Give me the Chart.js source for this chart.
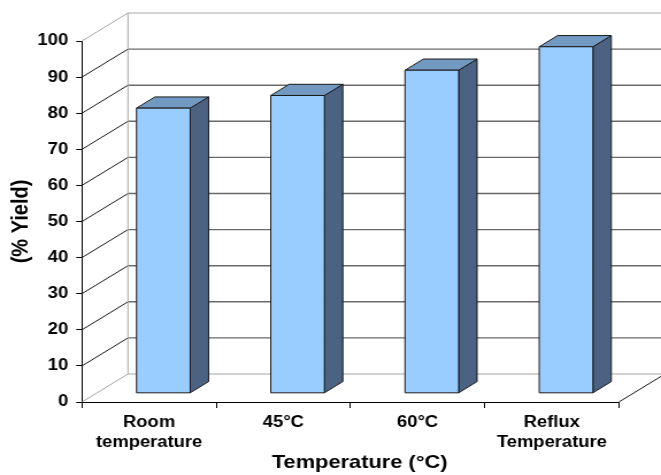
<!DOCTYPE html>
<html>
<head>
<meta charset="utf-8">
<script src="https://cdn.jsdelivr.net/npm/chart.js@4/dist/chart.umd.min.js"></script>
<style>
  html, body { margin: 0; padding: 0; background: #fff; overflow: hidden; }
  /* the drawing is laid out on a 575px canvas and widened to fill 661px */
  #wrap { width: 575px; height: 475px; transform: scaleX(1.14957); transform-origin: 0 0; }
</style>
</head>
<body>
<div id="wrap"><canvas id="chart"></canvas></div>
<script>
// ---- data ----
const categories = [['Room', 'temperature'], '45°C', '60°C', ['Reflux', 'Temperature']];
const yieldValues = [79, 82.5, 89.5, 96];
const yTickValues = [0, 10, 20, 30, 40, 50, 60, 70, 80, 90, 100];
const xTitle = 'Temperature (°C)';
const yTitle = '(% Yield)';

// ---- look ----
const FONT = '"Liberation Sans", Arial, Helvetica, sans-serif';
const DEPTH_X = 40, DEPTH_Y = -28;      // depth of the floor / side wall
const BAR_FRONT = 0.31, BAR_BACK = 0.71; // bar position inside the depth
const COL_FRONT = '#99ccff', COL_SIDE = '#4b6282', COL_TOP = '#7299c2';

const box3d = {
  id: 'box3d',
  afterDatasetsDraw(chart) {
    const { ctx, chartArea: a, scales: { x, y } } = chart;
    const L = a.left, R = a.right;
    ctx.save();
    ctx.lineCap = 'butt';

    const line = (x1, y1, x2, y2, color, w) => {
      ctx.beginPath();
      ctx.strokeStyle = color;
      ctx.lineWidth = w;
      ctx.moveTo(x1, y1);
      ctx.lineTo(x2, y2);
      ctx.stroke();
    };

    const yTop = y.getPixelForValue(yTickValues[yTickValues.length - 1]);
    const yBot = y.getPixelForValue(yTickValues[0]);

    // side wall diagonals and back wall gridlines
    yTickValues.forEach((v, i) => {
      const py = y.getPixelForValue(v);
      const edge = (i === 0 || i === yTickValues.length - 1);
      line(L, py, L + DEPTH_X, py + DEPTH_Y, edge ? '#a6a6a6' : '#1a1a1a', 1);
      line(L + DEPTH_X, py + DEPTH_Y, R + DEPTH_X, py + DEPTH_Y, edge ? '#a6a6a6' : '#6a6a6a', edge ? 1 : 1.4);
    });
    // back wall corner
    line(L + DEPTH_X, yTop + DEPTH_Y, L + DEPTH_X, yBot + DEPTH_Y, '#a6a6a6', 1);
    // floor right edge
    line(R, yBot, R + DEPTH_X, yBot + DEPTH_Y, '#1a1a1a', 1);

    // bars as boxes
    const meta = chart.getDatasetMeta(0);
    const fx = BAR_FRONT * DEPTH_X, fy = BAR_FRONT * DEPTH_Y;
    const bx = BAR_BACK * DEPTH_X, by = BAR_BACK * DEPTH_Y;
    ctx.strokeStyle = '#1a1a1a';
    ctx.lineWidth = 1;
    ctx.lineJoin = 'miter';
    meta.data.forEach(el => {
      const p = el.getProps(['x', 'y', 'base', 'width'], true);
      const l = p.x - p.width / 2, r = p.x + p.width / 2;
      const t = p.y, b = p.base;
      const poly = (pts, fill) => {
        ctx.beginPath();
        ctx.moveTo(pts[0][0], pts[0][1]);
        for (let k = 1; k < pts.length; k++) ctx.lineTo(pts[k][0], pts[k][1]);
        ctx.closePath();
        ctx.fillStyle = fill;
        ctx.fill();
        ctx.stroke();
      };
      // side face
      poly([[r + fx, t + fy], [r + bx, t + by], [r + bx, b + by], [r + fx, b + fy]], COL_SIDE);
      // top face
      poly([[l + fx, t + fy], [r + fx, t + fy], [r + bx, t + by], [l + bx, t + by]], COL_TOP);
      // front face
      poly([[l + fx, t + fy], [r + fx, t + fy], [r + fx, b + fy], [l + fx, b + fy]], COL_FRONT);
    });
    ctx.restore();
  },
  afterDraw(chart) {
    const { ctx, chartArea: a } = chart;
    ctx.save();
    ctx.font = 'bold 19px ' + FONT;
    ctx.fillStyle = '#000';
    ctx.textAlign = 'center';
    ctx.textBaseline = 'middle';
    ctx.fillText(xTitle, (a.left + a.right) / 2 + 8, 463);
    ctx.restore();
  }
};

new Chart(document.getElementById('chart'), {
  type: 'bar',
  data: {
    labels: categories,
    datasets: [{
      data: yieldValues,
      backgroundColor: 'rgba(0,0,0,0)',
      borderWidth: 0,
      barPercentage: 0.4,
      categoryPercentage: 1.0
    }]
  },
  options: {
    responsive: true,
    maintainAspectRatio: false,
    animation: false,
    events: [],
    layout: { padding: { left: 0, top: 41, right: 36.6, bottom: 0 } },
    plugins: { legend: { display: false }, tooltip: { enabled: false } },
    scales: {
      x: {
        afterFit(scale) { scale.height = 73; },
        grid: { display: true, drawOnChartArea: false, drawTicks: true, tickLength: 6, color: '#000', offset: true },
        border: { display: true, color: '#000', width: 1 },
        ticks: {
          color: '#000',
          padding: 5,
          maxRotation: 0,
          autoSkip: false,
          font: { family: FONT, size: 16, weight: 'bold', lineHeight: 1.25 }
        }
      },
      y: {
        min: yTickValues[0],
        max: yTickValues[yTickValues.length - 1],
        afterFit(scale) { scale.width = 71.3; },
        afterBuildTicks(scale) { scale.ticks = yTickValues.map(v => ({ value: v })); },
        grid: { display: true, drawOnChartArea: false, drawTicks: true, tickLength: 5, color: '#000' },
        border: { display: true, color: '#000', width: 1 },
        ticks: {
          color: '#000',
          padding: 7,
          font: { family: FONT, size: 16, weight: 'bold' }
        },
        title: {
          display: true,
          text: yTitle,
          color: '#000',
          padding: { top: 6, bottom: 0 },
          font: { family: FONT, size: 20, weight: 'bold', lineHeight: 1.2 }
        }
      }
    }
  },
  plugins: [box3d]
});
</script>
</body>
</html>
